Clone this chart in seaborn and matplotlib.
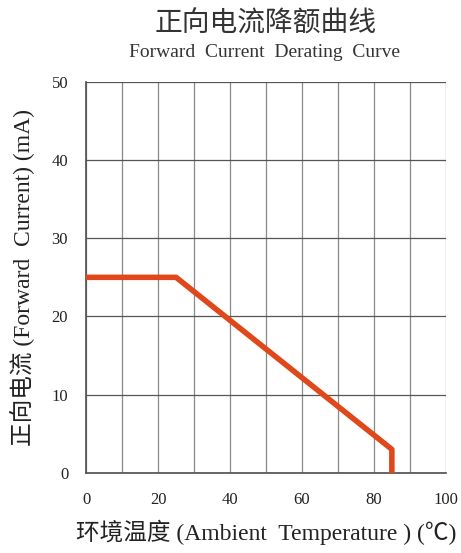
import matplotlib.pyplot as plt
import seaborn as sns
import pandas as pd

sns.set_theme(style="white")
plt.rcParams['font.family'] = ['Liberation Serif', 'Noto Sans CJK SC']

temperature = [0, 25, 85, 85]
current = [25, 25, 3, 0]
x_ticks = [0, 20, 40, 60, 80, 100]
y_ticks = [0, 10, 20, 30, 40, 50]

df = pd.DataFrame({'temp': temperature, 'current': current})

fig = plt.figure(figsize=(4.61, 5.53), dpi=100)
ax = fig.add_axes([0.187, 0.145, 0.780, 0.707])

# grid every 10 units
for v in range(0, 101, 10):
    ax.axvline(v, color='#888888', lw=0.9, zorder=1)
for v in range(0, 51, 10):
    ax.axhline(v, color='#555555', lw=0.9, zorder=1)

sns.lineplot(data=df, x='temp', y='current', sort=False, ax=ax,
             color='#E0471A', lw=4, zorder=3, estimator=None)

ax.set_xlim(0, 100)
ax.set_ylim(0, 50)
ax.set_xticks(x_ticks)
ax.set_yticks(y_ticks)
ax.tick_params(length=0, labelsize=12, colors='#222222')
ax.tick_params(axis='x', pad=14)
ax.tick_params(axis='y', pad=13)
for s in ax.spines.values():
    s.set_visible(False)
ax.spines['left'].set_visible(True)
ax.spines['bottom'].set_visible(True)
ax.spines['left'].set_color('#555555')
ax.spines['bottom'].set_color('#555555')

ax.set_xlabel('环境温度 (Ambient  Temperature ) (℃)', fontsize=17, labelpad=8,
              color='#222222', fontweight='light')
ax.set_ylabel('正向电流 (Forward  Current) (mA)', fontsize=17, labelpad=12,
              color='#222222', fontweight='light')

fig.text(0.575, 0.955, '正向电流降额曲线', ha='center', va='center', fontsize=20,
         color='#333333', fontweight='light')
fig.text(0.573, 0.905, 'Forward  Current  Derating  Curve', ha='center', va='center',
         fontsize=14, color='#333333')

fig.savefig('out.png', dpi=100)
